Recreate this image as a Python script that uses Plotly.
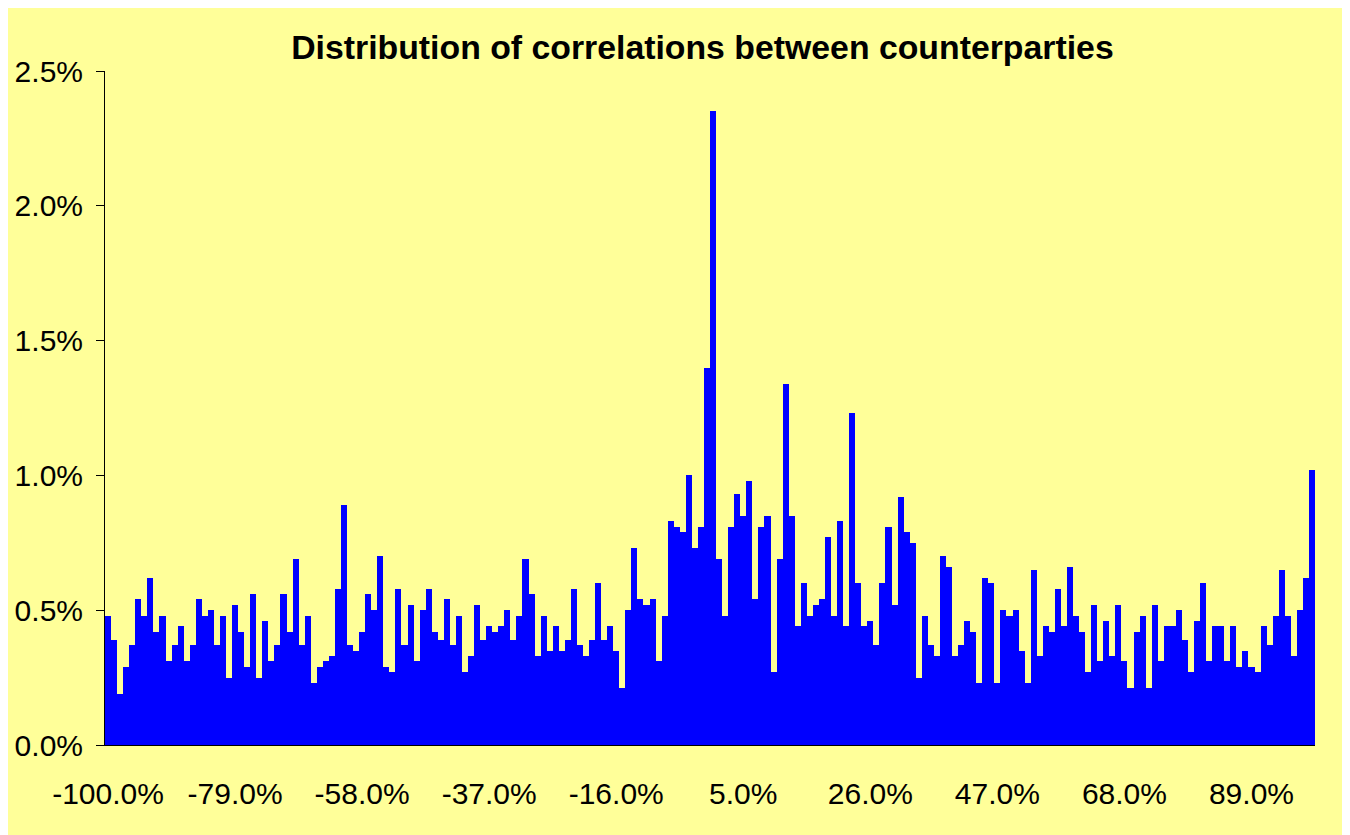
import plotly.graph_objects as go

# correlation buckets, in percent (-100% .. 99%)
corr_buckets = list(range(-100, 100))

# share of counterparty pairs in each bucket, in percent
share_pct = [
    0.48, 0.39, 0.19, 0.29, 0.37, 0.54, 0.48, 0.62, 0.42, 0.48,
    0.31, 0.37, 0.44, 0.31, 0.37, 0.54, 0.48, 0.50, 0.37, 0.48,
    0.25, 0.52, 0.42, 0.29, 0.56, 0.25, 0.46, 0.31, 0.37, 0.56,
    0.42, 0.69, 0.37, 0.48, 0.23, 0.29, 0.31, 0.33, 0.58, 0.89,
    0.37, 0.35, 0.42, 0.56, 0.50, 0.70, 0.29, 0.27, 0.58, 0.37,
    0.52, 0.31, 0.50, 0.58, 0.42, 0.39, 0.54, 0.37, 0.48, 0.27,
    0.33, 0.52, 0.39, 0.44, 0.42, 0.44, 0.50, 0.39, 0.48, 0.69,
    0.56, 0.33, 0.48, 0.35, 0.44, 0.35, 0.39, 0.58, 0.37, 0.33,
    0.39, 0.60, 0.39, 0.44, 0.35, 0.21, 0.50, 0.73, 0.54, 0.52,
    0.54, 0.31, 0.48, 0.83, 0.81, 0.79, 1.00, 0.73, 0.81, 1.40,
    2.35, 0.69, 0.48, 0.81, 0.93, 0.85, 0.98, 0.54, 0.81, 0.85,
    0.27, 0.69, 1.34, 0.85, 0.44, 0.60, 0.48, 0.52, 0.54, 0.77,
    0.48, 0.83, 0.44, 1.23, 0.60, 0.44, 0.46, 0.37, 0.60, 0.81,
    0.52, 0.92, 0.79, 0.75, 0.25, 0.48, 0.37, 0.33, 0.70, 0.66,
    0.33, 0.37, 0.46, 0.42, 0.23, 0.62, 0.60, 0.23, 0.50, 0.48,
    0.50, 0.35, 0.23, 0.65, 0.33, 0.44, 0.42, 0.58, 0.44, 0.66,
    0.48, 0.42, 0.27, 0.52, 0.31, 0.46, 0.33, 0.52, 0.31, 0.21,
    0.42, 0.48, 0.21, 0.52, 0.31, 0.44, 0.44, 0.50, 0.39, 0.27,
    0.46, 0.60, 0.31, 0.44, 0.44, 0.31, 0.44, 0.29, 0.35, 0.29,
    0.27, 0.44, 0.37, 0.48, 0.65, 0.48, 0.33, 0.50, 0.62, 1.02,
]

# Excel-style: labels every 21 buckets, tick marks every 13 buckets
label_vals = corr_buckets[::21]
label_text = [f"{v:.1f}%" for v in label_vals]
mark_vals = [corr_buckets[i] - 0.5 for i in range(0, len(corr_buckets), 13)]

BG = "#FFFF99"
FONT = "Arial, Liberation Sans, sans-serif"
x_range = [corr_buckets[0] - 0.5, corr_buckets[-1] + 0.5]

fig = go.Figure()
fig.add_trace(go.Bar(
    x=corr_buckets,
    y=share_pct,
    width=1,
    marker=dict(color="#0000FF", line=dict(width=0)),
    showlegend=False,
))

fig.update_layout(
    width=1350,
    height=835,
    paper_bgcolor=BG,
    plot_bgcolor=BG,
    margin=dict(l=97, r=43, t=63, b=98, autoexpand=False),
    bargap=0,
    font=dict(family=FONT, color="black"),
    title=dict(
        text="<b>Distribution of correlations between counterparties</b>",
        font=dict(size=33.8, family=FONT, color="black"),
        x=0.5144, xanchor="center", xref="container",
        y=0.953, yanchor="middle", yref="container",
    ),
    xaxis=dict(
        range=x_range,
        tickvals=label_vals,
        ticktext=label_text,
        ticks="",
        ticklabelstandoff=22,
        tickfont=dict(size=30),
        automargin=False,
        showgrid=False,
        zeroline=False,
        showline=True,
        linecolor="black",
        linewidth=1,
    ),
    xaxis2=dict(
        range=x_range,
        overlaying="x",
        anchor="y",
        side="bottom",
        tickvals=mark_vals,
        ticks="outside",
        ticklen=8,
        tickcolor="black",
        showticklabels=False,
        automargin=False,
        showgrid=False,
        zeroline=False,
        showline=False,
    ),
    yaxis=dict(
        range=[0, 2.5],
        dtick=0.5,
        tickformat=".1f",
        ticksuffix="%",
        ticks="outside",
        ticklen=8,
        tickcolor="black",
        ticklabelstandoff=7,
        tickfont=dict(size=30),
        automargin=False,
        showgrid=False,
        zeroline=False,
        showline=True,
        linecolor="black",
        linewidth=1,
    ),
)

fig.write_html("out.html")
